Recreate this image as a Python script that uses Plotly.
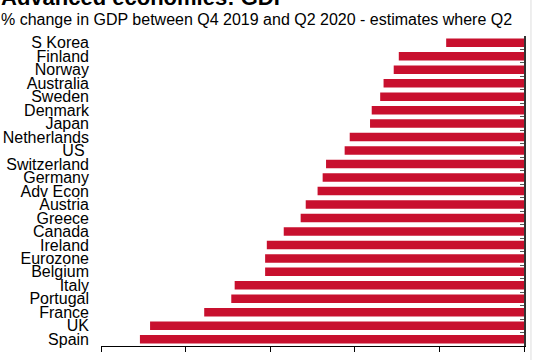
import plotly.graph_objects as go

countries = ["S Korea", "Finland", "Norway", "Australia", "Sweden", "Denmark", "Japan",
             "Netherlands", "US", "Switzerland", "Germany", "Adv Econ", "Austria", "Greece",
             "Canada", "Ireland", "Eurozone", "Belgium", "Italy", "Portugal", "France",
             "UK", "Spain"]
# tick labels as printed (the US label carries a trailing space in the original)
country_labels = ["S Korea", "Finland", "Norway", "Australia", "Sweden", "Denmark", "Japan",
                  "Netherlands", "US\u00a0", "Switzerland", "Germany", "Adv Econ", "Austria",
                  "Greece", "Canada", "Ireland", "Eurozone", "Belgium", "Italy", "Portugal",
                  "France", "UK", "Spain"]
gdp_change = [-4.6, -7.4, -7.7, -8.3, -8.5, -9.0, -9.1,
              -10.3, -10.6, -11.7, -11.9, -12.2, -12.9, -13.2,
              -14.2, -15.2, -15.3, -15.3, -17.1, -17.3, -18.9,
              -22.1, -22.7]
x_ticks = [-25, -20, -15, -10, -5, 0]

title_text = "Advanced economies: GDP"
subtitle_text = "% change in GDP between Q4 2019 and Q2 2020 - estimates where Q2"

FONT = "Liberation Sans, Arial, sans-serif"
RED = "#C8102E"

n = len(countries)
y_range = [n - 0.5, -0.5]  # reversed category range

fig = go.Figure()
fig.add_trace(go.Bar(
    x=gdp_change, y=countries, orientation="h",
    marker=dict(color=RED, line=dict(width=0)),
    hoverinfo="x+y",
))
# invisible trace to carry the right-hand axis with boundary ticks
fig.add_trace(go.Scatter(
    x=gdp_change, y=countries, yaxis="y2", mode="markers",
    marker=dict(opacity=0), hoverinfo="skip", showlegend=False,
))

fig.update_layout(
    width=536, height=360,
    margin=dict(l=101, r=12, t=36, b=14, pad=0, autoexpand=False),
    paper_bgcolor="white", plot_bgcolor="white",
    showlegend=False,
    bargap=0.37,
    font=dict(family=FONT, size=16, color="black"),
    xaxis=dict(
        range=[-25, 0], tickvals=x_ticks, ticks="outside", ticklen=5,
        tickcolor="black", showline=True, linecolor="black", linewidth=1,
        showgrid=False, zeroline=False, tickfont=dict(size=16),
        ticklabelstandoff=3, automargin=False,
    ),
    yaxis=dict(
        type="category", categoryorder="array", categoryarray=countries,
        range=y_range, autorange=False, showline=False, ticks="", showgrid=False,
        tickmode="array", tickvals=countries, ticktext=country_labels,
        tickfont=dict(size=16), ticklabelstandoff=11, automargin=False,
    ),
    yaxis2=dict(
        overlaying="y", side="right", matches="y", type="category",
        categoryorder="array", categoryarray=countries,
        range=y_range, autorange=False,
        showline=True, linecolor="#333333", linewidth=2,
        ticks="inside", ticklen=4, tickcolor="#555555", tickwidth=1,
        tickmode="linear", tick0=0, dtick=1,
        tickson="boundaries", showticklabels=False, showgrid=False,
        automargin=False,
    ),
    shapes=[
        dict(type="line", xref="paper", yref="paper", x0=1.0165, x1=1.0165,
             y0=-0.1, y1=1.2, line=dict(color="#DDDDDD", width=1)),
    ],
    annotations=[
        dict(text="<b>" + title_text + "</b>", xref="paper", yref="paper",
             x=-0.2388, y=1.0806, xanchor="left", yanchor="bottom",
             showarrow=False, borderpad=0, font=dict(size=22, family=FONT)),
        dict(text=subtitle_text, xref="paper", yref="paper",
             x=-0.2385, y=1.0226, xanchor="left", yanchor="bottom",
             showarrow=False, borderpad=0, font=dict(size=16, family=FONT)),
    ],
)

fig.write_html("out.html", config={"displayModeBar": False},
               post_script="document.body.style.margin='0';document.body.style.overflow='hidden';")
